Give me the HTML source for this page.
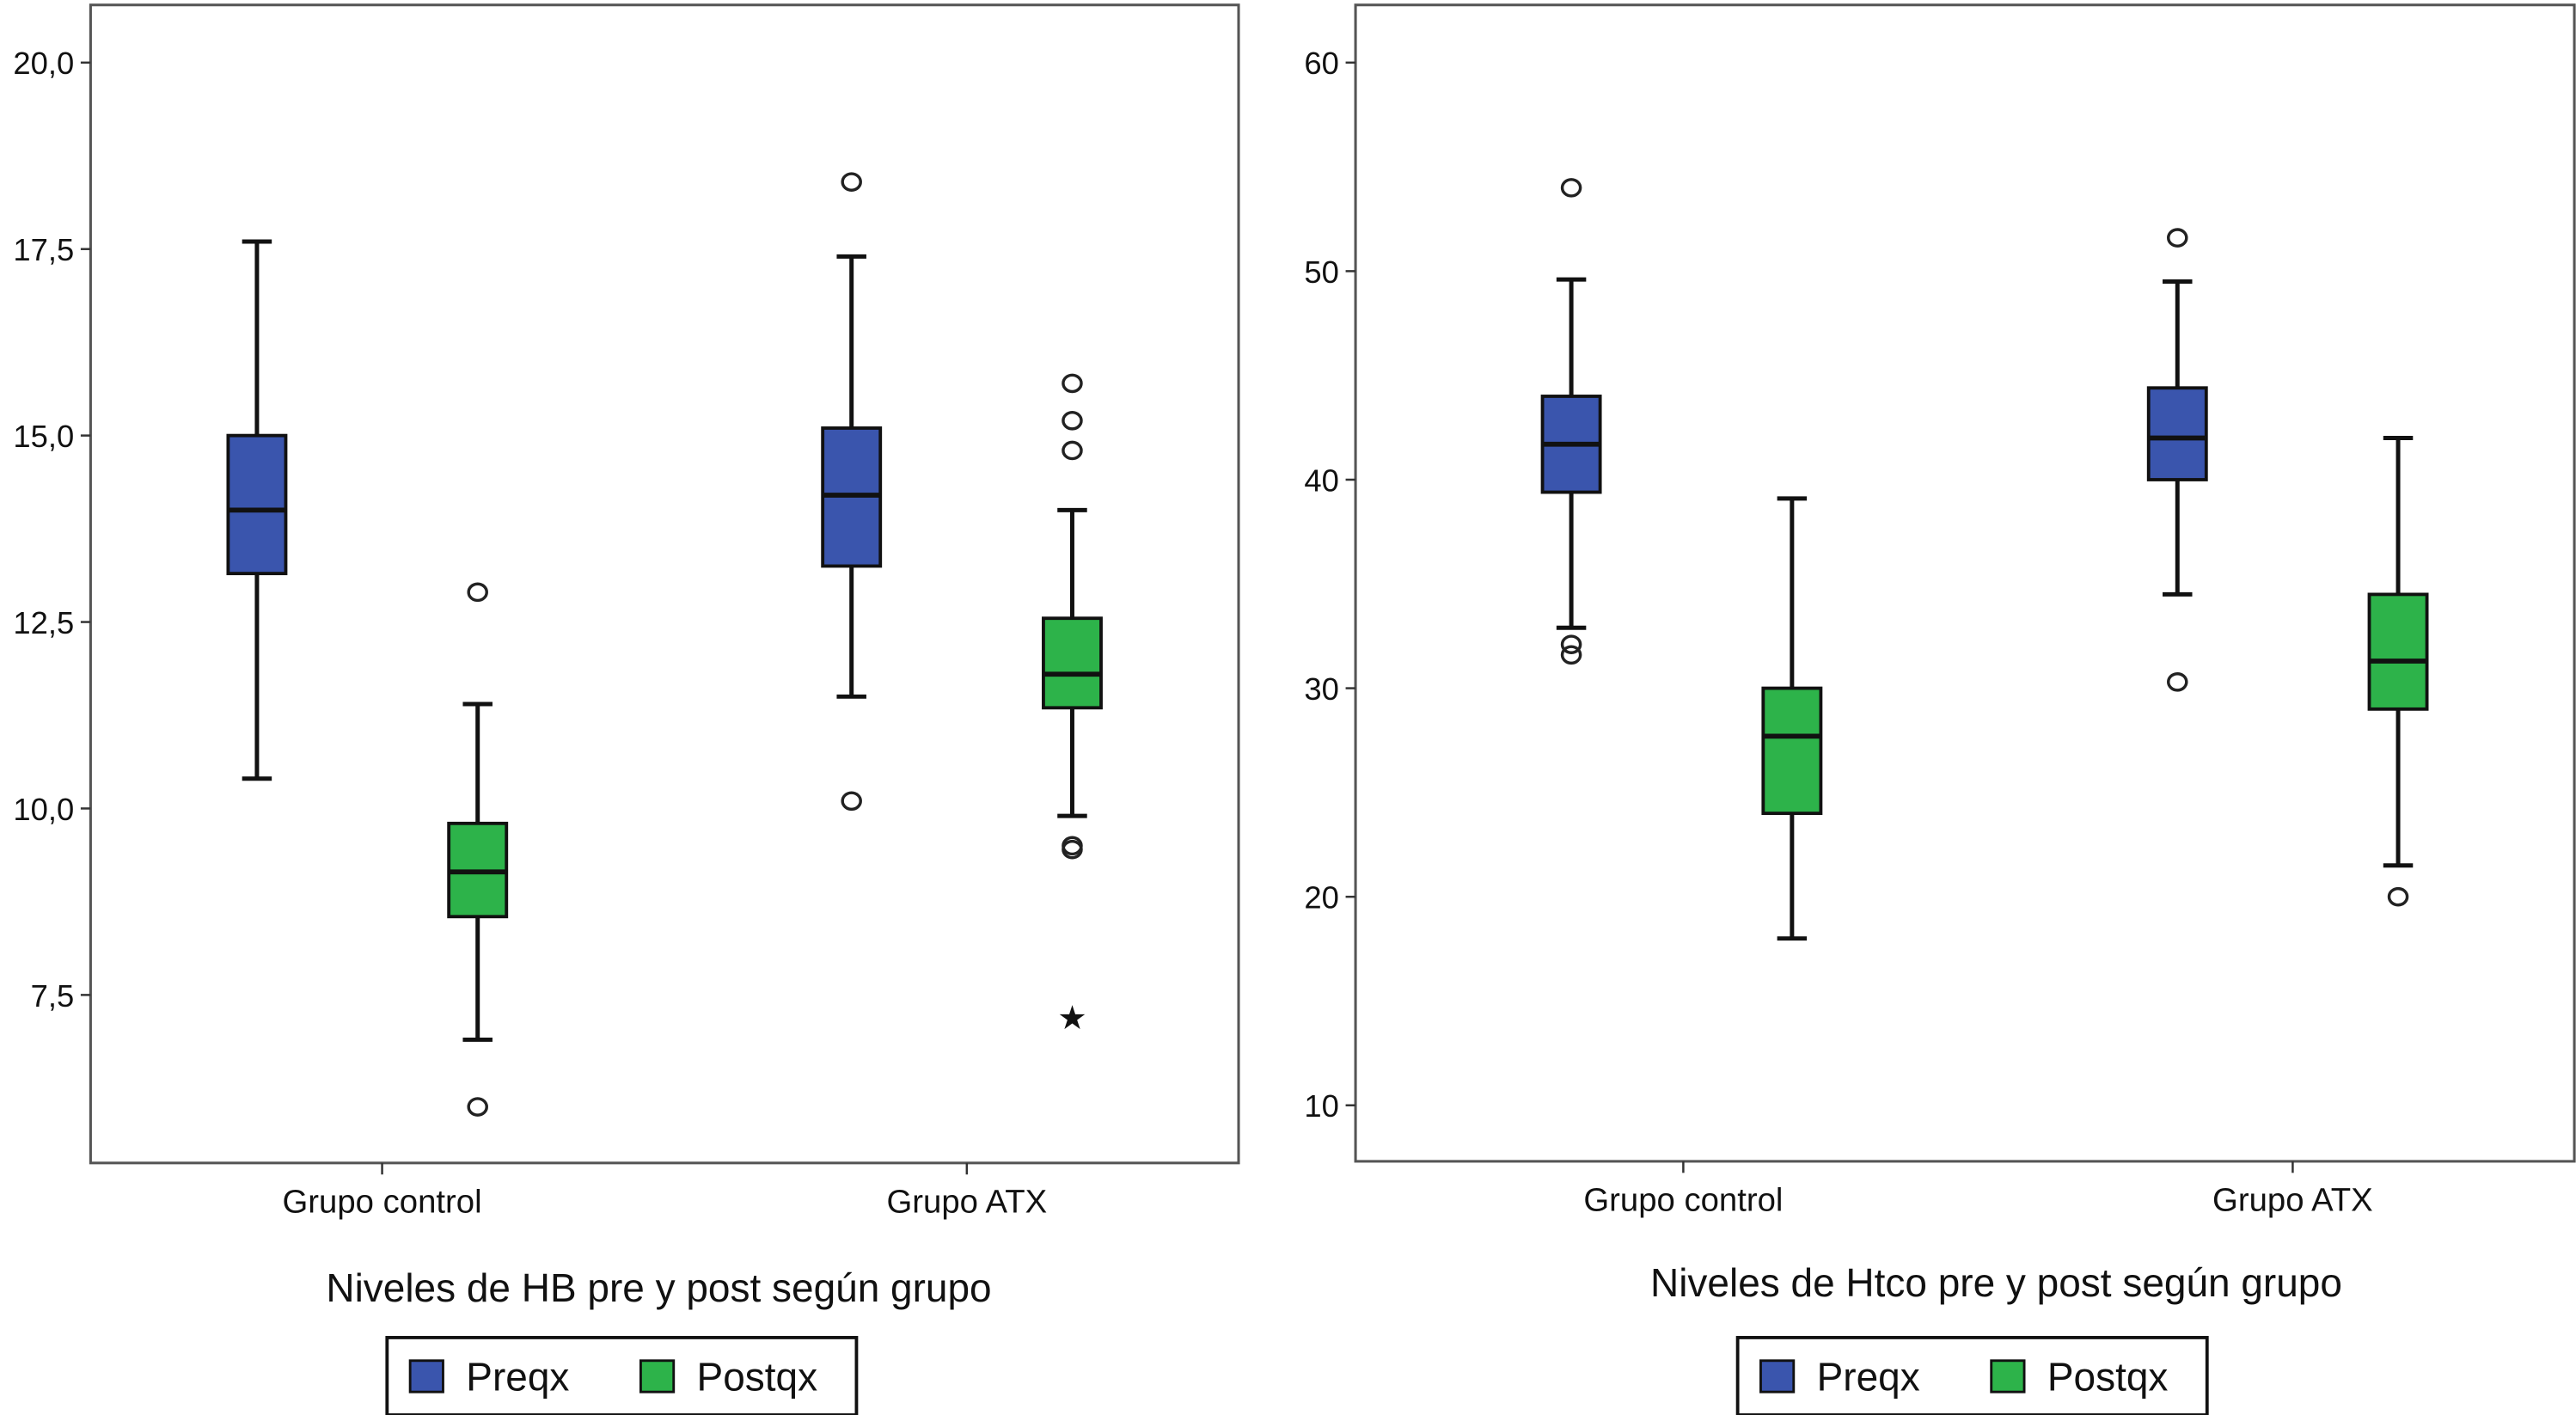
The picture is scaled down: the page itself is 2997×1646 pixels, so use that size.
<!DOCTYPE html>
<html><head><meta charset="utf-8"><style>
html,body{margin:0;padding:0;background:#fff}
svg{display:block}
text{font-family:"Liberation Sans",sans-serif;fill:#111}
</style></head><body>
<svg id="chart" width="2997" height="1646" viewBox="0 0 1564 859" preserveAspectRatio="none" xmlns="http://www.w3.org/2000/svg"></svg>
<script>
const panels = ["hb","htco"];
const groupLabels = ["Grupo control","Grupo ATX"];
const seriesNames = ["Preqx","Postqx"];
const titles = ["Niveles de HB pre y post según grupo","Niveles de Htco pre y post según grupo"];
const hbTicks = [7.5,10.0,12.5,15.0,17.5,20.0];
const hbTickLabels = ["7,5","10,0","12,5","15,0","17,5","20,0"];
const htTicks = [10,20,30,40,50,60];
const htTickLabels = ["10","20","30","40","50","60"];
// [lo, q1, med, q3, hi]
const hbPre = [[10.4,13.15,14.0,15.0,17.6],[11.5,13.25,14.2,15.1,17.4]];
const hbPost = [[6.9,8.55,9.15,9.8,11.4],[9.9,11.35,11.8,12.55,14.0]];
const hbPreOut = [[],[18.4,10.1]];
const hbPostOut = [[12.9,6.0],[15.7,15.2,14.8,9.5,9.45]];
const hbPostExtreme = [[],[7.2]];
const htPre = [[32.9,39.4,41.7,44.0,49.6],[34.5,40.0,42.0,44.4,49.5]];
const htPost = [[18.0,24.0,27.7,30.0,39.1],[21.5,29.0,31.3,34.5,42.0]];
const htPreOut = [[54,32.1,31.6],[51.6,30.3]];
const htPostOut = [[],[20]];
const htPostExtreme = [[],[]];
const noExtreme = [[],[]];

const NS="http://www.w3.org/2000/svg";
const svg=document.getElementById('chart');
function mk(tag,attrs,parent){const e=document.createElementNS(NS,tag);for(const k in attrs)e.setAttribute(k,attrs[k]);(parent||svg).appendChild(e);return e;}
const colors=["#3a55ad","#2db34a"];

const cfg=[
 {x0:55,x1:752,y0:3,y1:706,ticks:hbTicks,labels:hbTickLabels,v0:20.0,p0:38,v1:7.5,p1:604,pre:hbPre,post:hbPost,preOut:hbPreOut,postOut:hbPostOut,ext:hbPostExtreme,gx:[232,587],bm:[223,584],titleX:400,titleY:790,legX:235},
 {x0:823,x1:1563,y0:3,y1:705,ticks:htTicks,labels:htTickLabels,v0:60,p0:38,v1:10,p1:671,pre:htPre,post:htPost,preOut:htPreOut,postOut:htPostOut,ext:htPostExtreme,gx:[1022,1392],bm:[1021,1389],titleX:1212,titleY:787,legX:1055}
];
cfg.forEach((c,pi)=>{
 const g=mk('g',{});
 
 
 const y=v=>c.p0+(v-c.v0)*(c.p1-c.p0)/(c.v1-c.v0);
 const fr=mk('rect',{x:c.x0,y:c.y0,width:c.x1-c.x0,height:c.y1-c.y0,fill:'none',stroke:'#555','stroke-width':1.6},g);
 
 c.ticks.forEach((t,i)=>{
  mk('line',{x1:c.x0-6,x2:c.x0,y1:y(t),y2:y(t),stroke:'#333','stroke-width':1.3},g);
  const tx=mk('text',{x:c.x0-10,y:y(t)+7,'text-anchor':'end','font-size':19},g);
  tx.textContent=c.labels[i];
  
 });
 c.gx.forEach((gx,gi)=>{
  mk('line',{x1:gx,x2:gx,y1:c.y1,y2:c.y1+7,stroke:'#333','stroke-width':1.3},g);
  const tx=mk('text',{x:gx,y:c.y1+30,'text-anchor':'middle','font-size':20},g);
  tx.textContent=groupLabels[gi];
  
  [[c.pre,c.preOut,noExtreme],[c.post,c.postOut,c.ext]].forEach((s,si)=>{
   const cx=c.bm[gi]+(si===0?-67:67), hw=17.5;
   const d=s[0][gi];
   const bg=mk('g',{},g);
   
   
   mk('line',{x1:cx,x2:cx,y1:y(d[0]),y2:y(d[4]),stroke:'#111','stroke-width':2.6},bg);
   mk('line',{x1:cx-9,x2:cx+9,y1:y(d[0]),y2:y(d[0]),stroke:'#111','stroke-width':2.6},bg);
   mk('line',{x1:cx-9,x2:cx+9,y1:y(d[4]),y2:y(d[4]),stroke:'#111','stroke-width':2.6},bg);
   mk('rect',{x:cx-hw,y:y(d[3]),width:2*hw,height:y(d[1])-y(d[3]),fill:colors[si],stroke:'#111','stroke-width':2},bg);
   mk('line',{x1:cx-hw,x2:cx+hw,y1:y(d[2]),y2:y(d[2]),stroke:'#111','stroke-width':3},bg);
   (s[1][gi]||[]).forEach(v=>{const o=mk('ellipse',{cx:cx,cy:y(v),rx:5.5,ry:5,fill:'none',stroke:'#222','stroke-width':1.8},bg);
    });
   (s[2][gi]||[]).forEach(v=>{const o=mk('text',{x:cx,y:y(v)+7,'text-anchor':'middle','font-size':20},bg);o.textContent='★';
    });
  });
 });
 const tt=mk('text',{x:c.titleX,y:c.titleY,'text-anchor':'middle','font-size':24},g);
 tt.textContent=titles[pi];
 
 const lg=mk('g',{},g);
 
 mk('rect',{x:c.legX,y:812,width:285,height:47,fill:'#fff',stroke:'#111','stroke-width':2},lg);
 seriesNames.forEach((n,i)=>{
  const ex=c.legX+14+i*140;
  const e=mk('g',{},lg);
  
  mk('rect',{x:ex,y:826,width:20,height:19,fill:colors[i],stroke:'#111','stroke-width':1.5},e);
  const t=mk('text',{x:ex+34,y:844,'font-size':24},e);t.textContent=n;
 });
});
</script>
</body></html>
